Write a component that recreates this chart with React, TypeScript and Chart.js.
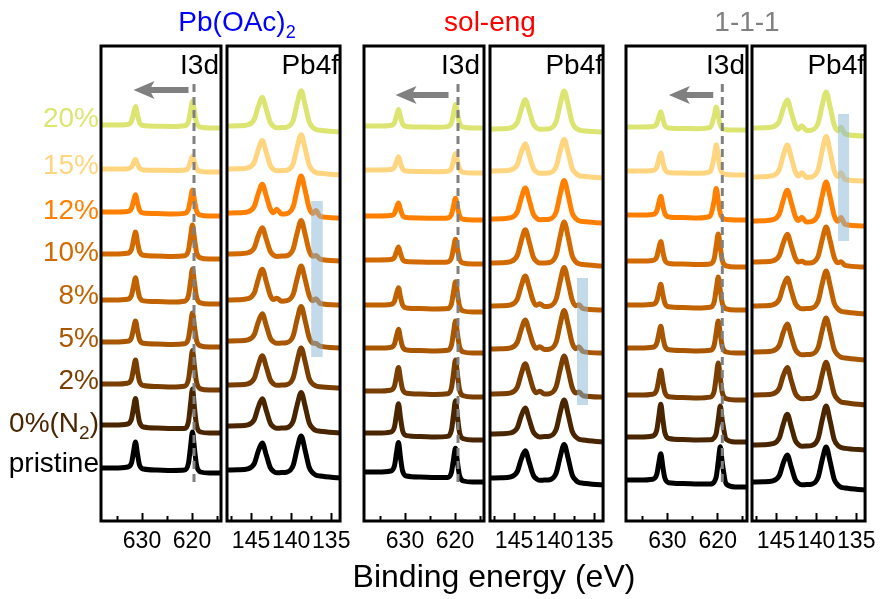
import React, { useEffect, useRef } from 'react';
import { Chart, registerables } from 'chart.js';

Chart.register(...registerables);

const FONT = "'Liberation Sans', Arial, Helvetica, sans-serif";

// ---------- data ----------
const ROW_LABELS = ['pristine', '0%(N2)', '2%', '5%', '8%', '10%', '12%', '15%', '20%'];
const ROW_COLORS = ['#000000', '#4A2600', '#7A3E00', '#A85600', '#C06200', '#D26A00', '#FF8000', '#FFD57F', '#DCE572'];

const GROUP_TITLES = ['Pb(OAc)2', 'sol-eng', '1-1-1'];
const GROUP_COLORS = ['#0000FF', '#FF0000', '#808080'];

const I3D_E = [638.2, 635.5, 632.9, 632.1, 631.7, 631.3, 630.9, 630.5, 629.7, 627, 624, 621.5, 620.7, 620.3, 619.9, 619.5, 619.1, 618.3, 616.5, 614.2];
const PB4F_E = [148.0, 146.6, 145.4, 144.6, 144.1, 143.6, 143.1, 142.6, 142.2, 141.8, 141.2, 140.55, 139.75, 139.25, 138.75, 138.25, 137.75, 137.3, 136.9, 136.4, 133.9];

const I3D_TICKS = [635, 630, 625, 620, 615];
const I3D_MAJOR = [630, 620];
const PB4F_TICKS = [147.5, 145, 142.5, 140, 137.5, 135];
const PB4F_MAJOR = [145, 140, 135];

// Pb(OAc)2
const PBOAC_I3D_OFFSETS = [48, 88, 131, 174, 217, 262, 305, 349, 393];
const PBOAC_I3D = [
  [5, 5, 6, 10, 21, 31, 19, 8, 4, 3, 2.6, 3, 10, 26, 41, 24, 8, 1, 0, 0],
  [8, 8, 9, 14, 25, 34.5, 22, 11, 6, 5, 4.5, 4.5, 11.5, 28.5, 44, 25, 8, 1, 0, 0],
  [6, 6, 6.8, 11, 21, 30, 18.5, 8.5, 4.5, 3.5, 3, 3.7, 10.7, 25.7, 39.4, 23.4, 8.2, 1.1, 0, 0],
  [5, 5, 5.7, 9.4, 18.2, 26, 16.2, 7.4, 3.7, 3, 2.6, 3.2, 8.8, 22, 34.1, 20.2, 6.8, 1.1, 0, 0],
  [4, 4, 4.7, 8.6, 17.8, 26.2, 16.2, 7, 3.1, 2.4, 2, 2.8, 8.6, 22.2, 34.9, 20.8, 7, 1.1, 0, 0],
  [5, 5, 5.7, 9.6, 18.8, 27, 16.8, 7.6, 3.7, 3, 2.6, 3.2, 8.8, 22, 34.1, 20.2, 6.8, 1.1, 0, 0],
  [4, 4, 4.5, 7.6, 14.8, 21.2, 13.2, 6, 2.9, 2.4, 2, 2.6, 6.8, 16.8, 25.9, 15.4, 5.2, 0.9, 0, 0],
  [3, 3, 3.3, 5, 9, 12.4, 7.8, 3.8, 2.1, 1.8, 1.5, 1.9, 4.4, 10.4, 15.7, 9.4, 3.2, 0.6, 0, 0],
  [3, 3, 3.6, 6.8, 14.4, 21.4, 13.2, 5.6, 2.4, 1.8, 1.5, 2.2, 6.6, 17, 26.7, 16, 5.4, 0.9, 0, 0],
];
const PBOAC_PB4F_OFFSETS = [43, 88, 133, 173, 216, 260, 303, 346, 389];
const PBOAC_PB4F = [
  [8, 8.3, 9.2, 14.4, 26.9, 35, 22.9, 10.4, 6.6, 5.2, 5.4, 5.9, 12.6, 29.4, 42, 27.4, 10.6, 5.1, 2.8, 2, 0],
  [7, 7.3, 8.2, 13.4, 25.9, 34.3, 22.4, 9.9, 6.1, 4.7, 4.9, 5.3, 11.9, 28.2, 40.6, 26.5, 10.2, 4.8, 2.5, 1.8, 0],
  [3, 3.3, 4.2, 9.6, 22.5, 32.3, 21, 8.1, 4.2, 2.7, 2.9, 3.4, 10.1, 26.9, 40.1, 26.2, 9.3, 3.9, 2, 1.2, 0],
  [7, 7.3, 8.2, 13.4, 25.9, 34.3, 22.4, 9.9, 6.1, 4.7, 4.9, 5.4, 12.1, 28.9, 41.6, 27.1, 10.3, 4.9, 4.6, 1.8, 0],
  [5, 5.3, 6.3, 12, 25.8, 35.8, 23.3, 9.5, 5.4, 6.8, 3.8, 4.3, 10.6, 26.5, 38.9, 25.3, 9.4, 4.3, 6.3, 1.5, 0],
  [7, 7.3, 8.1, 13.2, 25.2, 33.3, 21.7, 9.7, 6, 4.6, 4.9, 5.3, 11.9, 28.2, 40.6, 26.5, 10.2, 4.8, 5.5, 1.8, 0],
  [5, 5.3, 6.2, 11.6, 24.5, 33.8, 22, 9.1, 5.2, 8.7, 3.9, 4.4, 11.3, 28.5, 41.9, 27.3, 10.1, 4.5, 7.4, 1.6, 0],
  [6, 6.3, 7.2, 12.6, 25.5, 34.5, 22.5, 9.6, 5.7, 4.2, 4.4, 4.8, 11.4, 27.7, 40.3, 26.2, 9.9, 4.5, 2.4, 1.7, 0],
  [6, 6.3, 7.2, 12.6, 25.5, 34.5, 22.5, 9.6, 5.7, 4.2, 4.4, 4.9, 11.6, 28.4, 41.3, 26.9, 10.1, 4.6, 2.5, 1.7, 0],
];

// sol-eng
const SOLENG_I3D_OFFSETS = [39, 81, 124, 168, 209, 257, 301, 348, 393];
const SOLENG_I3D = [
  [10, 10, 11, 16.4, 29.2, 39.5, 24.2, 11.4, 6, 5, 4.5, 4.5, 9.9, 22.7, 33.8, 19.6, 6.6, 1, 0, 0],
  [7, 7, 7.9, 13.2, 25.6, 36.3, 22.1, 9.7, 4.4, 3.5, 3, 3.6, 10.1, 25.3, 39.3, 23.2, 7.8, 1.2, 0, 0],
  [6, 6, 6.8, 11, 21, 29.5, 18, 8, 3.8, 3, 2.6, 3.2, 9.3, 23.7, 37, 22, 7.4, 1.2, 0, 0],
  [5, 5, 5.6, 9, 17, 23.8, 14.5, 6.5, 3.1, 2.5, 2.1, 2.7, 8, 20.4, 31.9, 19, 6.4, 1, 0, 0],
  [7, 7, 7.6, 10.8, 18.4, 24.3, 14.9, 7.3, 4.1, 3.5, 3, 3.4, 8.3, 19.9, 30.3, 17.8, 6, 1, 0, 0],
  [4, 4, 4.4, 6.8, 12.4, 17, 10.4, 4.8, 2.4, 2, 1.7, 2.1, 6.2, 15.8, 24.7, 14.8, 5, 0.8, 0, 0],
  [4, 4, 4.4, 6.8, 12.4, 17, 10.4, 4.8, 2.4, 2, 1.7, 2, 5.6, 14, 21.7, 13, 4.4, 0.7, 0, 0],
  [3, 3, 3.4, 5.8, 11.4, 16.3, 9.9, 4.3, 1.9, 1.5, 1.3, 1.7, 4.9, 12.5, 19.6, 11.8, 4, 0.6, 0, 0],
  [2, 2, 2.5, 5.4, 12.2, 18.5, 11.2, 4.4, 1.5, 1, 0.8, 1.4, 5.3, 14.5, 23.4, 14.2, 4.8, 0.8, 0, 0],
];
const SOLENG_PB4F_OFFSETS = [36, 79, 124, 168, 211, 255, 298, 343, 389];
const SOLENG_PB4F = [
  [7, 7.3, 8.2, 13.4, 25.9, 34.3, 22.4, 9.9, 6.1, 4.7, 4.9, 5.3, 11.9, 28.2, 40.6, 26.5, 10.2, 4.8, 2.5, 1.8, 0],
  [8, 8.3, 9.1, 14.2, 26.2, 34, 22.2, 10.2, 6.5, 5.1, 5.4, 5.9, 12.6, 29.4, 42, 27.4, 10.6, 5.1, 2.8, 2, 0],
  [3, 3.3, 4.2, 9.8, 23.2, 33.3, 21.7, 8.3, 4.3, 5.7, 2.9, 3.4, 10.3, 27.5, 41.1, 26.8, 9.6, 4, 5.1, 1.3, 0],
  [4, 4.3, 5.2, 10.6, 23.5, 33, 21.5, 8.6, 4.7, 6.2, 3.4, 3.9, 11, 28.7, 42.5, 27.7, 10, 4.3, 6.2, 1.4, 0],
  [4, 4.3, 5.2, 10.8, 24.2, 34, 22.2, 8.8, 4.8, 6.2, 3.4, 3.9, 11, 28.7, 42.5, 27.7, 10, 4.3, 5.2, 1.4, 0],
  [3, 3.3, 4.4, 10.5, 25.1, 36.3, 23.6, 9, 4.6, 2.9, 3.1, 3.5, 11, 29.5, 44.1, 28.8, 10.2, 4.2, 2.2, 1.4, 0],
  [4, 4.3, 5.3, 11, 24.8, 35, 22.8, 9, 4.9, 3.3, 3.4, 3.9, 11, 28.7, 42.5, 27.7, 10, 4.3, 2.2, 1.4, 0],
  [7, 7.3, 8.2, 13.4, 25.9, 34.3, 22.4, 9.9, 6.1, 4.7, 4.8, 5.2, 11.4, 26.9, 38.6, 25.2, 9.7, 4.7, 2.4, 1.7, 0],
  [3, 3.3, 4.2, 9.6, 22.5, 32.3, 21, 8.1, 4.2, 2.7, 2.9, 3.4, 10.3, 27.5, 41.1, 26.8, 9.6, 4, 2.1, 1.3, 0],
];

// 1-1-1
const ONE_I3D_OFFSETS = [34, 79, 121, 168, 211, 254, 301, 346, 391];
const ONE_I3D = [
  [7, 7, 7.8, 12.6, 23.8, 33.3, 20.3, 9.1, 4.3, 3.5, 3, 2.9, 5.2, 10.3, 25.6, 40.2, 23.9, 2.9, 0.1, 0],
  [5, 5, 6, 11.8, 25.4, 37.8, 22.9, 9.3, 3.5, 2.5, 2.1, 2.2, 4.3, 8.8, 22.6, 35.9, 21.4, 2.7, 0.1, 0],
  [5, 5, 5.8, 10.2, 20.6, 29.8, 18.1, 7.7, 3.3, 2.5, 2.1, 2.9, 9, 23.4, 36.9, 22, 7.4, 1.2, 0, 0],
  [5, 5, 5.7, 9.6, 18.8, 26.8, 16.3, 7.1, 3.2, 2.5, 2.1, 2.7, 8, 20.4, 31.9, 19, 6.4, 1, 0, 0],
  [5, 5, 5.7, 9.4, 18.2, 25.8, 15.7, 6.9, 3.2, 2.5, 2.1, 2.8, 8.2, 21, 32.9, 19.6, 6.6, 1.1, 0, 0],
  [6, 6, 6.6, 10.2, 18.6, 25.5, 15.6, 7.2, 3.6, 3, 2.6, 3.1, 8.5, 21.3, 33, 19.6, 6.6, 1.1, 0, 0],
  [5, 5, 5.6, 9, 17, 23.8, 14.5, 6.5, 3.1, 2.5, 2.1, 3.9, 19.8, 31.6, 19.2, 6.6, 2.4, 0.4, 0, 0],
  [4, 4, 4.6, 7.8, 15.4, 22, 13.4, 5.8, 2.6, 2, 1.7, 3.4, 18.8, 30.3, 18.4, 6.3, 2.2, 0.4, 0, 0],
  [3, 3, 3.5, 6.2, 12.6, 18.3, 11.1, 4.7, 2, 1.5, 1.3, 2.6, 14.3, 23, 14, 4.8, 1.7, 0.3, 0, 0],
];
const ONE_PB4F_OFFSETS = [31, 71, 116, 161, 207, 254, 295, 340, 385];
const ONE_PB4F = [
  [8, 8.3, 9.2, 14.4, 26.9, 35, 22.9, 10.4, 6.6, 5.2, 5.4, 5.9, 12.8, 30, 43, 28, 10.8, 5.2, 2.8, 2, 0],
  [5, 5.3, 6.3, 12, 25.8, 35.8, 23.3, 9.5, 5.4, 3.8, 3.9, 4.5, 11.7, 29.8, 43.9, 28.6, 10.5, 4.7, 2.5, 1.6, 0],
  [10, 10.3, 11.2, 16.6, 29.5, 37.5, 24.5, 11.6, 7.7, 6.2, 6.4, 6.9, 13.6, 30.4, 42.8, 27.9, 11.1, 5.6, 3.1, 2.3, 0],
  [8, 8.3, 9.2, 14.6, 27.5, 36, 23.5, 10.6, 6.7, 5.2, 5.4, 5.9, 12.6, 29.4, 42, 27.4, 10.6, 5.1, 2.8, 2, 0],
  [8, 8.3, 9.2, 14.6, 27.5, 36, 23.5, 10.6, 6.7, 5.2, 5.4, 5.9, 12.8, 30, 43, 28, 10.8, 5.2, 2.8, 2, 0],
  [5, 5.3, 6.2, 11.4, 23.9, 32.8, 21.4, 8.9, 5.1, 5.7, 3.9, 4.3, 10.9, 27.2, 39.9, 26, 9.7, 4.3, 5.3, 1.6, 0],
  [5, 5.3, 6.3, 12, 25.8, 35.8, 23.3, 9.5, 5.4, 8.8, 3.9, 4.5, 11.7, 29.8, 43.9, 28.6, 10.5, 4.7, 8.5, 1.6, 0],
  [4, 4.3, 5.3, 11.3, 25.5, 36, 23.5, 9.3, 5, 8.3, 3.6, 4, 11.5, 30, 44.5, 29, 10.5, 4.4, 8.3, 1.5, 0],
  [8, 8.3, 9.2, 14.6, 27.5, 36, 23.5, 10.6, 6.7, 10.2, 5.4, 5.9, 13, 30.7, 44, 28.7, 11, 5.3, 8.8, 2, 0],
];

// dashed reference energies (I3d panels) and their vertical span
const DASH_E = [619.6, 619.4, 619.1];
const DASH_Y = [39, 438];
// arrows: [tail energy, head energy, height]
const ARROWS = [
  [620.7, 631.7, 431],
  [621.3, 631.9, 426],
  [620.9, 629.7, 426],
];
// highlight boxes: [energy from, energy to, y from, y to]
const HIGHLIGHTS = [
  [137.5, 136.06, 164, 320],
  [137.15, 135.78, 116, 243],
  [137.27, 135.9, 280, 407],
];

// ---------- layout ----------
const PLOT_TOP = 46;
const PLOT_BOTTOM = 521;
const PAD_X = 20;
const PAD_TOP = 10;
const AXIS_H = 44;

const PANELS = [
  { kind: 'I3d', left: 101, right: 221, rows: PBOAC_I3D, offsets: PBOAC_I3D_OFFSETS, dash: DASH_E[0], arrow: ARROWS[0], labelRight: 219 },
  { kind: 'Pb4f', left: 227, right: 347, rows: PBOAC_PB4F, offsets: PBOAC_PB4F_OFFSETS, hl: HIGHLIGHTS[0], labelRight: 339 },
  { kind: 'I3d', left: 364, right: 484, rows: SOLENG_I3D, offsets: SOLENG_I3D_OFFSETS, dash: DASH_E[1], arrow: ARROWS[1], labelRight: 480 },
  { kind: 'Pb4f', left: 490, right: 610, rows: SOLENG_PB4F, offsets: SOLENG_PB4F_OFFSETS, hl: HIGHLIGHTS[1], labelRight: 603 },
  { kind: 'I3d', left: 626, right: 747, rows: ONE_I3D, offsets: ONE_I3D_OFFSETS, dash: DASH_E[2], arrow: ARROWS[2], labelRight: 745 },
  { kind: 'Pb4f', left: 752, right: 872, rows: ONE_PB4F, offsets: ONE_PB4F_OFFSETS, hl: HIGHLIGHTS[2], labelRight: 865 },
];

const GROUP_CENTERS = [237, 490, 747];
const ROW_LABEL_BASELINES = [473, 433, 390, 348, 305, 262, 220, 175, 128];

function decorPlugin(p: any) {
  return {
    id: 'decor',
    afterDatasetsDraw(chart: any) {
      const { ctx, chartArea: a } = chart;
      const x = chart.scales.x;
      const y = chart.scales.y;
      ctx.save();
      if (p.hl) {
        const [e1, e2, y1, y2] = p.hl;
        const x1 = x.getPixelForValue(e1);
        const x2 = x.getPixelForValue(e2);
        const py1 = y.getPixelForValue(y1);
        const py2 = y.getPixelForValue(y2);
        ctx.fillStyle = 'rgba(135,182,216,0.5)';
        ctx.fillRect(Math.min(x1, x2), Math.min(py1, py2), Math.abs(x2 - x1), Math.abs(py2 - py1));
      }
      if (p.arrow) {
        const [tail, head, yy] = p.arrow;
        const xt = x.getPixelForValue(tail);
        const xh = x.getPixelForValue(head);
        const py = y.getPixelForValue(yy);
        ctx.strokeStyle = '#808080';
        ctx.fillStyle = '#808080';
        ctx.lineWidth = 6;
        ctx.beginPath();
        ctx.moveTo(xt, py);
        ctx.lineTo(xh + 14, py);
        ctx.stroke();
        ctx.beginPath();
        ctx.moveTo(xh, py);
        ctx.lineTo(xh + 21, py - 9);
        ctx.lineTo(xh + 16, py);
        ctx.lineTo(xh + 21, py + 9);
        ctx.closePath();
        ctx.fill();
      }
      ctx.strokeStyle = '#000';
      ctx.lineWidth = 3;
      ctx.strokeRect(a.left, a.top, a.right - a.left, a.bottom - a.top);
      ctx.restore();
    },
  };
}

export default function App() {
  const refs = useRef<(HTMLCanvasElement | null)[]>([]);

  useEffect(() => {
    const charts = PANELS.map((p, i) => {
      const canvas = refs.current[i] as HTMLCanvasElement;
      const isI3d = p.kind === 'I3d';
      const E = isI3d ? I3D_E : PB4F_E;
      const ticks = isI3d ? I3D_TICKS : PB4F_TICKS;
      const major = isI3d ? I3D_MAJOR : PB4F_MAJOR;
      const datasets: any[] = p.rows.map((vals: number[], r: number) => ({
        data: E.map((e, k) => ({ x: e, y: p.offsets[r] + vals[k] })),
        borderColor: ROW_COLORS[r],
        borderWidth: 5,
        pointRadius: 0,
        cubicInterpolationMode: 'monotone',
        fill: false,
        clip: 0,
        order: 1,
        borderJoinStyle: 'round',
      }));
      if ((p as any).dash != null) {
        datasets.unshift({
          data: [
            { x: (p as any).dash, y: DASH_Y[0] },
            { x: (p as any).dash, y: DASH_Y[1] },
          ],
          borderColor: '#808080',
          borderWidth: 3,
          borderDash: [8, 5],
          pointRadius: 0,
          tension: 0,
          fill: false,
          order: 0,
          clip: 0,
        });
      }
      return new Chart(canvas, {
        type: 'line',
        data: { datasets },
        plugins: [decorPlugin(p)],
        options: {
          responsive: false,
          animation: false,
          devicePixelRatio: 1,
          events: [],
          layout: { padding: { left: PAD_X, right: PAD_X, top: PAD_TOP, bottom: 0 } },
          plugins: { legend: { display: false }, tooltip: { enabled: false } },
          scales: {
            x: {
              type: 'linear',
              reverse: true,
              min: E[E.length - 1],
              max: E[0],
              afterBuildTicks: (s: any) => {
                s.ticks = ticks.map((v) => ({ value: v }));
              },
              afterFit: (s: any) => {
                s.height = AXIS_H;
              },
              border: { display: false },
              grid: {
                display: true,
                drawOnChartArea: false,
                drawTicks: true,
                tickLength: -8,
                tickWidth: 2,
                tickColor: '#000',
                tickBorderDash: (ctx: any) => (ctx.tick && major.includes(ctx.tick.value) ? [] : [5, 100]),
              },
              ticks: {
                autoSkip: false,
                maxRotation: 0,
                padding: 15,
                color: '#000',
                font: { family: FONT, size: 23 },
                callback: (v: any) => (major.includes(Number(v)) ? String(v) : ''),
              },
            },
            y: { type: 'linear', display: false, min: 0, max: PLOT_BOTTOM - PLOT_TOP },
          },
        } as any,
      });
    });
    return () => charts.forEach((c) => c.destroy());
  }, []);

  const canvasTop = PLOT_TOP - PAD_TOP;
  const canvasH = PLOT_BOTTOM - canvasTop + AXIS_H;

  return (
    <div style={{ position: 'absolute', left: 0, top: 0, width: 887, height: 599, background: '#fff', fontFamily: FONT, overflow: 'hidden' }}>
      {PANELS.map((p, i) => (
        <canvas
          key={'c' + i}
          ref={(el) => {
            refs.current[i] = el;
          }}
          width={p.right - p.left + 2 * PAD_X}
          height={canvasH}
          style={{ position: 'absolute', left: p.left - PAD_X, top: canvasTop, width: p.right - p.left + 2 * PAD_X, height: canvasH }}
        />
      ))}

      {PANELS.map((p, i) => (
        <div
          key={'pl' + i}
          style={{ position: 'absolute', left: p.labelRight - 100, width: 100, top: 75 - 23.7, fontSize: 28, lineHeight: '28px', textAlign: 'right', color: '#000', whiteSpace: 'nowrap' }}
        >
          {p.kind}
        </div>
      ))}

      {GROUP_TITLES.map((t, i) => (
        <div
          key={'g' + i}
          style={{ position: 'absolute', left: GROUP_CENTERS[i] - 120, width: 240, top: 32 - 23.7, fontSize: 28, lineHeight: '28px', textAlign: 'center', color: GROUP_COLORS[i], whiteSpace: 'nowrap' }}
        >
          {t.endsWith(')2') ? (
            <>
              {t.slice(0, -1)}
              <span style={{ fontSize: 18, position: 'relative', top: 7 }}>2</span>
            </>
          ) : (
            t
          )}
        </div>
      ))}

      {ROW_LABELS.map((t, r) => (
        <div
          key={'r' + r}
          style={{ position: 'absolute', left: 0, width: 99, top: ROW_LABEL_BASELINES[r] - 23.7, fontSize: 28, lineHeight: '28px', textAlign: 'right', color: ROW_COLORS[r], whiteSpace: 'nowrap' }}
        >
          {t === '0%(N2)' ? (
            <>
              0%(N<span style={{ fontSize: 19, position: 'relative', top: 7 }}>2</span>)
            </>
          ) : (
            t
          )}
        </div>
      ))}

      <div
        style={{ position: 'absolute', left: 494 - 200, width: 400, top: 587 - 27.1, fontSize: 32, lineHeight: '32px', textAlign: 'center', color: '#000', whiteSpace: 'nowrap' }}
      >
        Binding energy (eV)
      </div>
    </div>
  );
}
